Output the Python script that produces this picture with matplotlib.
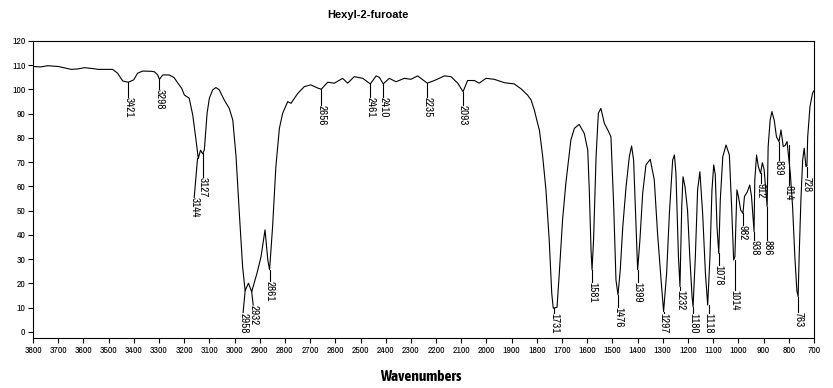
import matplotlib
matplotlib.use("Agg")
import matplotlib.pyplot as plt

# ---- spectrum data (wavenumber cm-1, %T) ----
wavenumber = [3800, 3770, 3742, 3700, 3649, 3620, 3596, 3560, 3543, 3484, 3464, 3444,
              3421, 3400, 3385, 3365, 3330, 3318, 3305, 3298, 3285, 3259, 3240, 3226,
              3210, 3199, 3180, 3166, 3153, 3144, 3135, 3127, 3120, 3109, 3100, 3087,
              3074, 3061, 3041, 3021, 3007, 2994, 2981, 2968, 2958, 2945, 2932, 2911,
              2895, 2879, 2868, 2861, 2849, 2836, 2822, 2809, 2789, 2776, 2749, 2723,
              2697, 2670, 2656, 2630, 2604, 2571, 2551, 2525, 2491, 2461, 2438, 2425,
              2410, 2386, 2359, 2326, 2300, 2273, 2235, 2207, 2167, 2141, 2114, 2093,
              2075, 2048, 2029, 2002, 1969, 1929, 1890, 1863, 1837, 1823, 1810, 1797,
              1790, 1777, 1764, 1751, 1741, 1735, 1720, 1711, 1698, 1685, 1665, 1651,
              1632, 1612, 1598, 1592, 1585, 1581, 1575, 1565, 1556, 1546, 1532, 1517,
              1506, 1495, 1486, 1478, 1469, 1459, 1446, 1433, 1424, 1416, 1407, 1400,
              1391, 1380, 1367, 1350, 1334, 1321, 1307, 1297, 1285, 1274, 1261, 1254,
              1248, 1238, 1232, 1225, 1220, 1212, 1202, 1193, 1184, 1180, 1171, 1162,
              1153, 1142, 1131, 1122, 1113, 1105, 1098, 1092, 1085, 1078, 1072, 1062,
              1049, 1036, 1027, 1019, 1014, 1006, 1000, 991, 982, 976, 965, 955,
              948, 938, 935, 928, 921, 912, 905, 898, 886, 882, 874, 867,
              858, 849, 839, 831, 822, 814, 807, 794, 785, 776, 768, 763,
              759, 752, 745, 739, 732, 728, 725, 716, 706, 700]
transmittance = [109.5, 109.3, 109.8, 109.5, 108.3, 108.5, 109.0, 108.6, 108.3, 108.3, 106.7, 103.5,
                 103.0, 104.0, 106.7, 107.6, 107.5, 107.3, 106.0, 104.2, 106.0, 106.0, 104.9, 102.8,
                 100.5, 97.7, 96.4, 89.5, 79.2, 71.5, 75.0, 73.5, 75.0, 90.2, 96.4, 99.8,
                 100.8, 99.9, 95.7, 92.2, 87.4, 72.3, 48.9, 26.9, 17.0, 20.1, 16.6, 24.2,
                 31.0, 42.1, 29.7, 25.6, 43.4, 68.2, 84.0, 90.2, 95.0, 94.3, 98.4, 101.2,
                 101.9, 100.6, 100.1, 103.0, 102.6, 104.6, 102.6, 105.3, 104.6, 102.3, 105.6, 105.0,
                 102.3, 104.6, 103.2, 104.6, 104.2, 105.6, 102.6, 103.7, 105.6, 105.3, 102.6, 99.1,
                 103.7, 103.7, 102.6, 104.6, 104.2, 102.8, 102.3, 100.3, 97.7, 95.7, 91.5, 86.0,
                 83.3, 72.5, 58.6, 37.9, 16.0, 9.8, 10.2, 24.2, 46.2, 61.3, 79.2, 84.0,
                 85.6, 81.9, 75.0, 58.6, 33.8, 25.6, 37.9, 72.3, 90.2, 92.2, 86.0, 83.0,
                 80.5, 51.7, 21.4, 15.3, 25.6, 43.4, 59.9, 72.3, 76.7, 70.9, 44.8, 25.6,
                 37.9, 57.2, 68.9, 71.2, 62.7, 40.7, 21.4, 8.4, 24.2, 48.9, 70.9, 73.0,
                 65.4, 31.0, 18.7, 51.7, 64.0, 59.9, 50.3, 31.0, 14.6, 10.4, 31.0, 58.6,
                 66.1, 48.9, 24.2, 11.1, 31.0, 58.6, 68.9, 65.0, 43.4, 32.4, 54.4, 72.3,
                 77.1, 73.0, 51.7, 29.7, 31.0, 58.6, 55.9, 50.3, 48.9, 55.9, 57.7, 60.6,
                 55.9, 41.4, 62.7, 73.0, 68.2, 65.4, 69.8, 67.0, 51.7, 76.4, 87.4, 90.9,
                 87.4, 80.5, 78.5, 83.3, 76.4, 77.0, 78.5, 65.4, 51.7, 31.0, 17.0, 14.6,
                 31.0, 54.4, 70.9, 75.8, 68.2, 68.5, 80.5, 92.9, 98.4, 99.5]

# ---- peak annotations ----
peak_labels = ["3421", "3298", "3144", "3127", "2958", "2932", "2861", "2656", "2461", "2410",
               "2235", "2093", "1731", "1581", "1476", "1399", "1297", "1232", "1180", "1118",
               "1078", "1014", "982", "938", "912", "886", "839", "814", "763", "728"]
peak_line_x = [3421, 3298, 3147, 3127, 2958, 2932, 2861, 2656, 2461, 2410,
               2235, 2093, 1731, 1581, 1476, 1399, 1297, 1232, 1180, 1118,
               1078, 1014, 982, 938, 912, 886, 839, 800, 763, 728]
peak_text_x = [3421, 3298, 3160, 3127, 2966, 2926, 2861, 2656, 2461, 2410,
               2235, 2093, 1731, 1581, 1476, 1399, 1297, 1232, 1180, 1118,
               1078, 1014, 982, 938, 912, 886, 839, 800, 763, 728]
peak_curve_y = [103.0, 104.2, 71.5, 74.0, 17.0, 16.6, 25.6, 100.1, 102.3, 102.3,
                102.6, 99.1, 9.8, 25.6, 15.3, 25.6, 8.4, 18.7, 10.4, 11.1,
                32.4, 29.7, 48.9, 41.4, 65.4, 51.7, 78.5, 77.0, 14.6, 68.2]
peak_text_y = [97.0, 100.1, 55.5, 64.0, 8.0, 11.1, 21.2, 93.6, 97.0, 97.0,
               97.0, 93.6, 7.7, 20.7, 10.4, 20.7, 7.7, 17.3, 7.7, 7.7,
               27.6, 17.3, 44.1, 37.9, 61.3, 37.9, 70.9, 60.6, 8.4, 64.0]

x_ticks = list(range(3800, 600, -100))
y_ticks = list(range(0, 121, 10))

narrow = ["Liberation Sans Narrow", "Archivo Narrow", "Asap Condensed", "DejaVu Sans"]
narrow_bold = ["Liberation Sans Narrow", "Asap Condensed", "Barlow Condensed", "DejaVu Sans"]

W, H = 833, 388
fig = plt.figure(figsize=(W / 100, H / 100), dpi=100)
fig.patch.set_facecolor("white")
ax = fig.add_axes([33 / W, 1 - 338 / H, (814 - 33) / W, (338 - 41) / H])

ax.plot(wavenumber, transmittance, color="black", linewidth=0.8)

for lab, lx, tx, cy, ty in zip(peak_labels, peak_line_x, peak_text_x, peak_curve_y, peak_text_y):
    ax.plot([lx, tx], [cy, ty], color="black", linewidth=0.8)
    ax.text(tx, ty, lab, rotation=270, ha="center", va="top",
            family=narrow, fontsize=8, color="black")

ax.set_xlim(3800, 700)
ax.set_ylim(-2.5, 120)
ax.set_xticks(x_ticks)
ax.set_yticks(y_ticks)
ax.tick_params(axis="both", direction="out", length=3.5, width=0.8,
               labelsize=7, pad=2, color="black")
for lbl in ax.get_xticklabels() + ax.get_yticklabels():
    lbl.set_family(narrow)
for sp in ax.spines.values():
    sp.set_linewidth(0.8)
    sp.set_color("black")

fig.text(368 / W, 1 - 15 / H, "Hexyl-2-furoate", ha="center", va="center",
         family=["Liberation Sans", "DejaVu Sans"], fontweight="bold", fontsize=8)
fig.text(421 / W, 1 - 377 / H, "Wavenumbers", ha="center", va="center",
         family=narrow_bold, fontweight="bold", fontsize=11)

fig.savefig("out.png", dpi=100, facecolor="white")
